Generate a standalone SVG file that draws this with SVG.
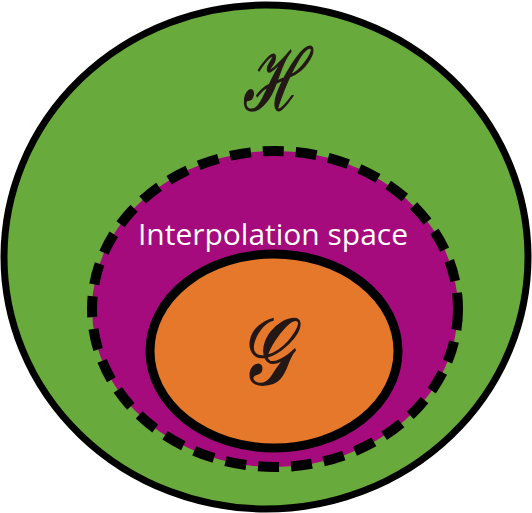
<svg xmlns="http://www.w3.org/2000/svg" width="532" height="513" viewBox="0 0 532 513">
<style>
.lbl{font-family:"Liberation Serif","DejaVu Serif",serif;font-style:italic;fill:#231815;stroke:#231815;stroke-width:1.6}
.txt{font-family:"Open Sans","Noto Sans",sans-serif;fill:#ffffff}
</style>
<rect width="532" height="513" fill="#ffffff"/>
<g id="H">
<ellipse cx="266" cy="257" rx="262" ry="252" fill="#69aa3c" stroke="#000" stroke-width="7"/>
<text class="lbl" transform="translate(273,110) scale(0.65,1)" x="0" y="0" font-size="86" text-anchor="middle">ℋ</text>
</g>
<g id="interpolation">
<ellipse cx="275" cy="309" rx="183" ry="158" fill="#a50b7c" stroke="#000" stroke-width="10" stroke-dasharray="21 12"/>
<text class="txt" x="273" y="245" font-size="29" text-anchor="middle" textLength="270" lengthAdjust="spacingAndGlyphs">Interpolation space</text>
</g>
<g id="G">
<ellipse cx="274" cy="351" rx="124" ry="97" fill="#e6782b" stroke="#000" stroke-width="9"/>
<text class="lbl" transform="translate(264,384) scale(0.78,1)" x="0" y="0" font-size="94" text-anchor="middle">𝒢</text>
</g>
<g id="connectors"/>
</svg>
